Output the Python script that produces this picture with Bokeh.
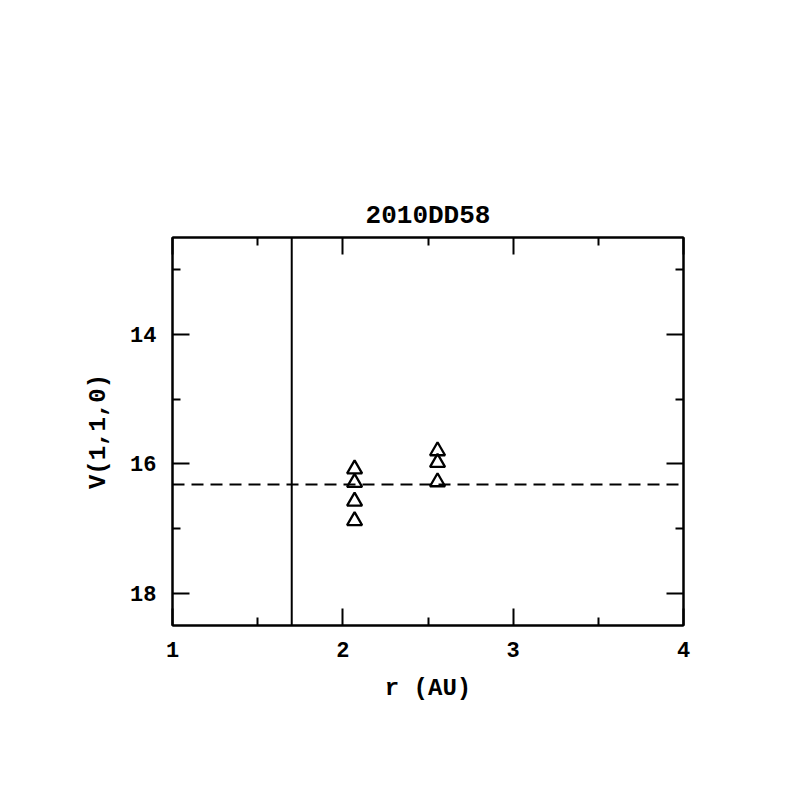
from bokeh.plotting import figure
from bokeh.models import LinearAxis, Span, Range1d, FixedTicker
from bokeh.embed import file_html
from bokeh.resources import INLINE

# data
r_au = [2.069, 2.069, 2.069, 2.069, 2.556, 2.556, 2.556]
v110 = [16.08, 16.29, 16.58, 16.88, 15.80, 15.98, 16.28]
x_major = [1, 2, 3, 4]
x_minor = [1.5, 2.5, 3.5]
y_major = [14, 16, 18]
y_minor = [13, 15, 17]
vline_r = [1.7]
hline_v = [16.32]
title_text = "2010DD58"
xlabel = "r (AU)"
ylabel = "V(1,1,0)"

FONT = "Liberation Mono"

p = figure(width=789, height=789, output_backend="svg", toolbar_location=None,
           x_range=Range1d(1, 4), y_range=Range1d(18.5, 12.5),
           x_axis_location=None, y_axis_location=None,
           min_border_left=172, min_border_right=106,
           min_border_top=237, min_border_bottom=164)
p.background_fill_color = "white"
p.border_fill_color = "white"
p.grid.visible = False
p.outline_line_color = "black"
p.outline_line_width = 2

p.title.text = title_text
p.title.align = "center"
p.title.text_font = FONT
p.title.text_font_size = "26px"
p.title.text_font_style = "bold"
p.title.text_color = "black"
p.title.standoff = 13


def make_axis(show_labels, ticks, minors, label=None):
    ax = LinearAxis(ticker=FixedTicker(ticks=ticks, minor_ticks=minors))
    ax.axis_line_color = "black"
    ax.axis_line_width = 2
    ax.major_tick_in = 17
    ax.major_tick_out = 0
    ax.minor_tick_in = 8
    ax.minor_tick_out = 0
    ax.major_tick_line_width = 2
    ax.minor_tick_line_width = 2
    ax.major_tick_line_color = "black"
    ax.minor_tick_line_color = "black"
    if show_labels:
        ax.major_label_text_font = FONT
        ax.major_label_text_font_size = "22px"
        ax.major_label_text_font_style = "bold"
        ax.major_label_text_color = "black"
        ax.major_label_standoff = 16
    else:
        ax.major_label_text_font_size = "0px"
        ax.major_label_text_alpha = 0
    if label:
        ax.axis_label = label
        ax.axis_label_text_font = FONT
        ax.axis_label_text_font_size = "24px"
        ax.axis_label_text_font_style = "bold"
        ax.axis_label_text_color = "black"
        ax.axis_label_standoff = 15
    return ax


p.add_layout(make_axis(True, x_major, x_minor, xlabel), "below")
p.add_layout(make_axis(True, y_major, y_minor, ylabel), "left")
p.add_layout(make_axis(False, x_major, x_minor), "above")
p.add_layout(make_axis(False, y_major, y_minor), "right")

for xv in vline_r:
    p.add_layout(Span(location=xv, dimension="height", line_color="black", line_width=2))
for yv in hline_v:
    p.add_layout(Span(location=yv, dimension="width", line_color="black", line_width=2,
                      line_dash="12 7"))

p.scatter(r_au, v110, marker="triangle", size=15, fill_color=None,
          line_color="black", line_width=2.3)

open("out.html", "w").write(file_html(p, INLINE))
